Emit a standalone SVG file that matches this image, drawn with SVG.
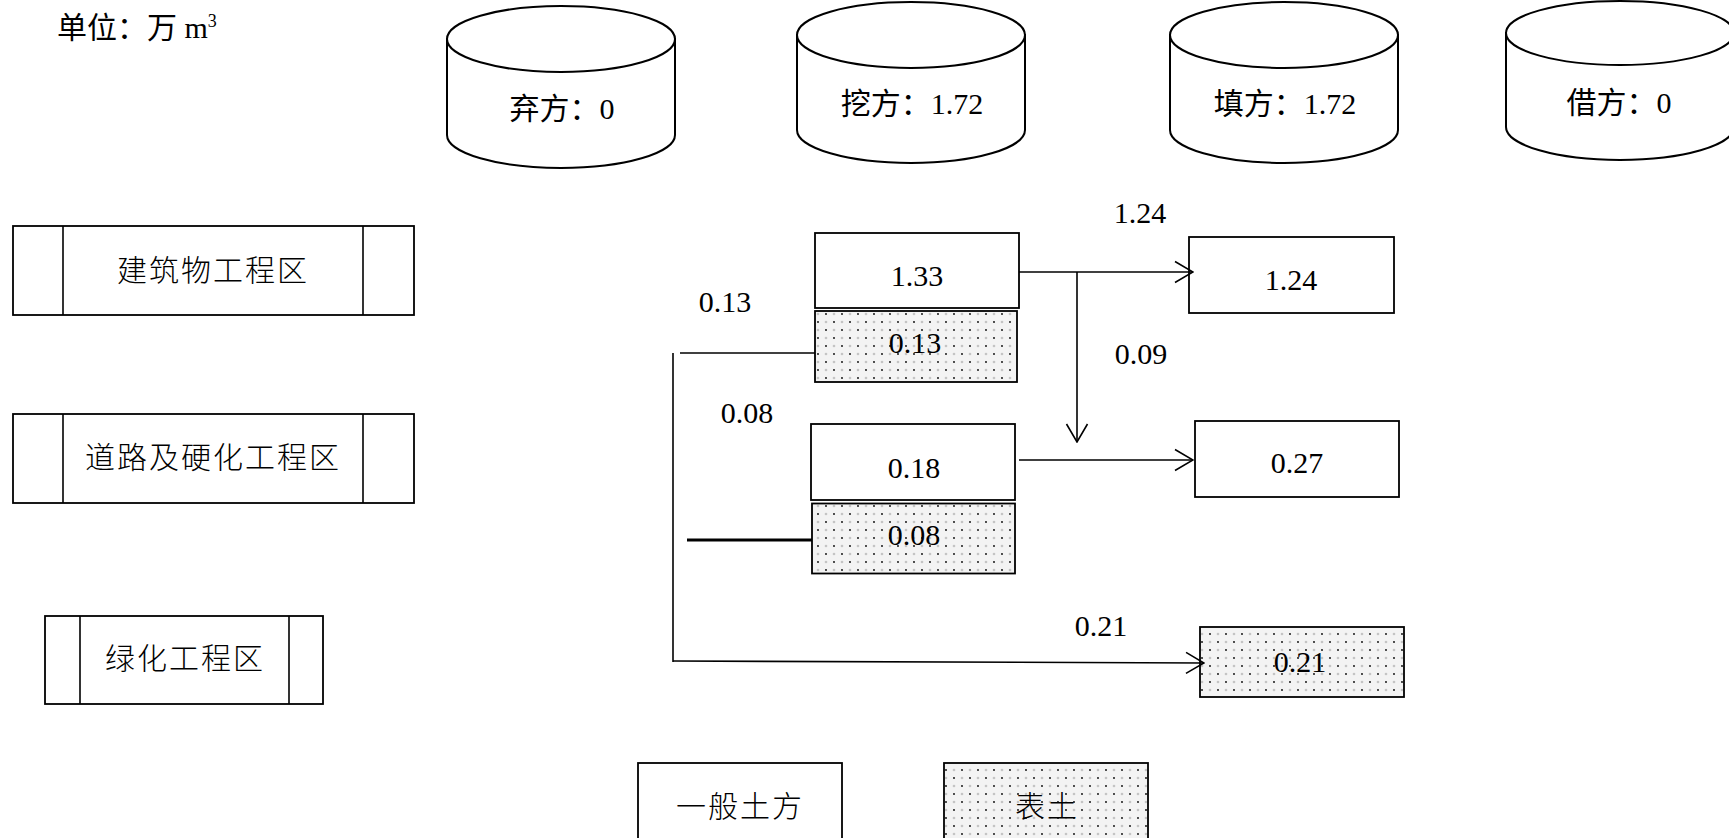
<svg xmlns="http://www.w3.org/2000/svg" width="1729" height="838" viewBox="0 0 1729 838">
<style>
text{font-family:"Liberation Serif","Noto Sans CJK SC",serif;font-size:30px;fill:#000;text-anchor:middle}
.cjk{font-family:"Noto Sans CJK SC","Liberation Serif",sans-serif;font-weight:300;letter-spacing:2px}
.box{fill:#fff;stroke:#000;stroke-width:1.8}
.dot{fill:url(#dots);stroke:#000;stroke-width:1.8}
.cyl{fill:#fff;stroke:#000;stroke-width:2}
.ln{fill:none;stroke:#000;stroke-width:1.6}
.arr{marker-end:url(#ah)}
</style>
<defs>
<pattern id="dots" width="16" height="16" patternUnits="userSpaceOnUse">
<rect width="16" height="16" fill="#f3f3f3"/>
<circle cx="2" cy="2" r="0.9" fill="#000"/>
<circle cx="10" cy="10" r="0.9" fill="#000"/>
<circle cx="10" cy="2" r="1.3" fill="#c4c4c4"/>
<circle cx="2" cy="10" r="1.3" fill="#c4c4c4"/>
</pattern>
<marker id="ah" viewBox="0 0 20 24" refX="19" refY="12" markerWidth="20" markerHeight="24" markerUnits="userSpaceOnUse" orient="auto">
<path d="M1,1.5 L19,12 L1,22.5" fill="none" stroke="#000" stroke-width="1.6"/>
</marker>
</defs>
<rect width="1729" height="838" fill="#fff"/>

<g id="unit"><text x="57" y="38" style="text-anchor:start">单位：万 m<tspan font-size="18" dy="-11">3</tspan></text></g>

<g id="cyl-qifang">
<path class="cyl" d="M447,39 L447,135 A114,33 0 0 0 675,135 L675,39 Z"/>
<ellipse class="cyl" cx="561" cy="39" rx="114" ry="33"/>
<text x="562" y="119">弃方：0</text>
</g>
<g id="cyl-wafang">
<path class="cyl" d="M797,35 L797,130 A114,33 0 0 0 1025,130 L1025,35 Z"/>
<ellipse class="cyl" cx="911" cy="35" rx="114" ry="33"/>
<text x="912" y="114">挖方：1.72</text>
</g>
<g id="cyl-tianfang">
<path class="cyl" d="M1170,35 L1170,130 A114,33 0 0 0 1398,130 L1398,35 Z"/>
<ellipse class="cyl" cx="1284" cy="35" rx="114" ry="33"/>
<text x="1285" y="114">填方：1.72</text>
</g>
<g id="cyl-jiefang">
<path class="cyl" d="M1506,33 L1506,127 A114,33 0 0 0 1734,127 L1734,33 Z"/>
<ellipse class="cyl" cx="1620" cy="33" rx="114" ry="32"/>
<text x="1619" y="113">借方：0</text>
</g>

<g id="zone-building">
<rect class="box" x="13" y="226" width="401" height="89"/>
<line class="ln" x1="63" y1="226" x2="63" y2="315"/>
<line class="ln" x1="363" y1="226" x2="363" y2="315"/>
<text class="cjk" x="213" y="281">建筑物工程区</text>
</g>
<g id="zone-road">
<rect class="box" x="13" y="414" width="401" height="89"/>
<line class="ln" x1="63" y1="414" x2="63" y2="503"/>
<line class="ln" x1="363" y1="414" x2="363" y2="503"/>
<text class="cjk" x="213" y="468">道路及硬化工程区</text>
</g>
<g id="zone-green">
<rect class="box" x="45" y="616" width="278" height="88"/>
<line class="ln" x1="80" y1="616" x2="80" y2="704"/>
<line class="ln" x1="289" y1="616" x2="289" y2="704"/>
<text class="cjk" x="185" y="669">绿化工程区</text>
</g>

<g id="n-133"><rect class="box" x="815" y="233" width="204" height="75"/><text x="917" y="286">1.33</text></g>
<g id="n-013"><rect class="dot" x="815" y="311" width="202" height="71"/><text x="915" y="353">0.13</text></g>
<g id="n-124"><rect class="box" x="1189" y="237" width="205" height="76"/><text x="1291" y="290">1.24</text></g>
<g id="n-018"><rect class="box" x="811" y="424" width="204" height="76"/><text x="914" y="478">0.18</text></g>
<g id="n-008"><rect class="dot" x="812" y="503.5" width="203" height="70"/><text x="914" y="545">0.08</text></g>
<g id="n-027"><rect class="box" x="1195" y="421" width="204" height="76"/><text x="1297" y="473">0.27</text></g>
<g id="n-021"><rect class="dot" x="1200" y="627" width="204" height="70"/><text x="1300" y="672">0.21</text></g>

<g id="connectors">
<line class="ln arr" x1="1019" y1="272" x2="1193" y2="272"/>
<line class="ln arr" x1="1077" y1="272" x2="1077" y2="442"/>
<line class="ln arr" x1="1019" y1="460" x2="1193" y2="460"/>
<line class="ln" x1="815" y1="353" x2="680" y2="353"/>
<line class="ln" x1="673" y1="353" x2="673" y2="662"/>
<line class="ln" x1="687" y1="540" x2="812" y2="540" style="stroke-width:3"/>
<line class="ln arr" x1="673" y1="661" x2="1204" y2="663"/>
<text x="1140" y="223">1.24</text>
<text x="1141" y="364">0.09</text>
<text x="725" y="312">0.13</text>
<text x="747" y="423">0.08</text>
<text x="1101" y="636">0.21</text>
</g>

<g id="legend-general"><rect class="box" x="638" y="763" width="204" height="90"/><text class="cjk" x="740" y="817">一般土方</text></g>
<g id="legend-topsoil"><rect class="dot" x="944" y="763" width="204" height="90"/><text class="cjk" x="1047" y="817">表土</text></g>
</svg>
